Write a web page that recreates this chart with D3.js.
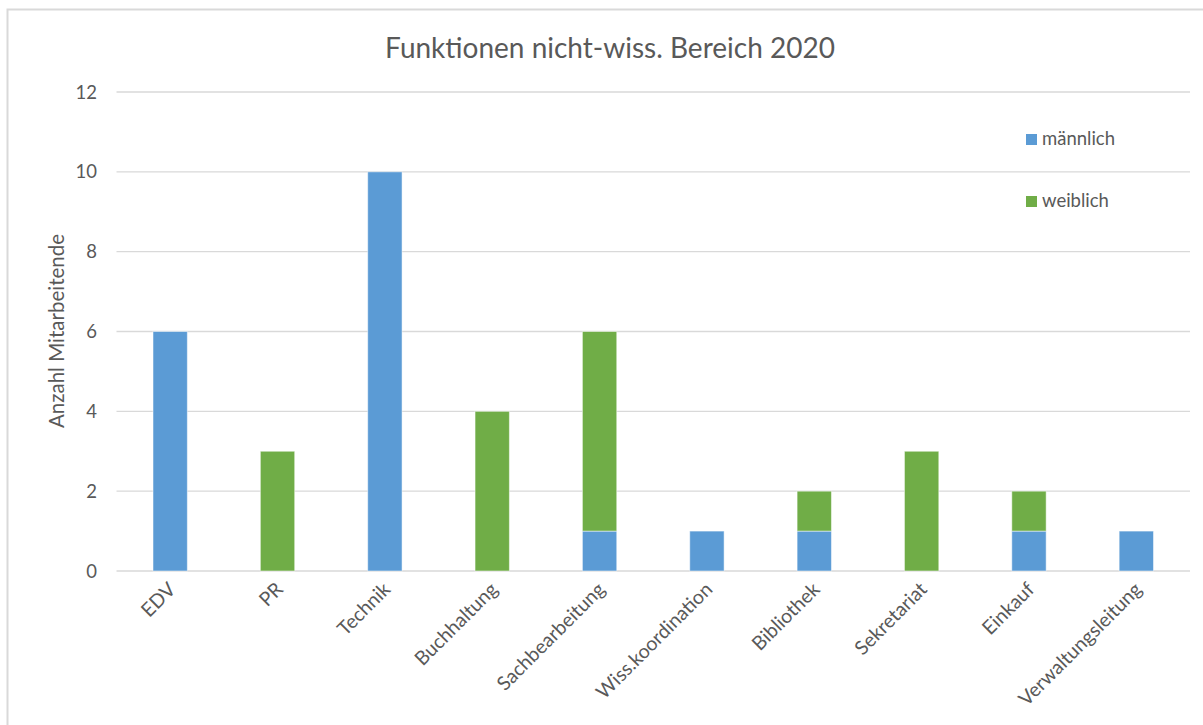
<!DOCTYPE html>
<html>
<head>
<meta charset="utf-8">
<script src="https://cdn.jsdelivr.net/npm/d3@7"></script>
<style>
	body{margin:0;background:#fff;}
	svg{display:block;font-family:Lato,"Open Sans",sans-serif;}
</style>
</head>
<body>
<div id="chart"></div>
<script>
/* chart data */
const categories = ['EDV','PR','Technik','Buchhaltung','Sachbearbeitung','Wiss.koordination','Bibliothek','Sekretariat','Einkauf','Verwaltungsleitung']
const maennlich = [6,0,10,0,1,1,1,0,1,1]
const weiblich = [0,3,0,4,5,0,1,3,1,0]
const seriesNames = ['männlich','weiblich']
const yTicks = [0,2,4,6,8,10,12]

const width = 1203
const height = 725
const colors = ['#5B9BD5','#70AD47']
const textColor = '#595959'

const svg = d3.select('#chart').append('svg')
	.attr('width',width)
	.attr('height',height)

//chart frame (runs off the right/bottom edge like the screenshot)
svg.append('rect')
	.attr('x',7.5).attr('y',9.5)
	.attr('width',width+20).attr('height',height+20)
	.attr('fill','#fff')
	.attr('stroke','#d9d9d9')
	.attr('stroke-width',2)

const plot = {left:116.5,right:1190,top:92,bottom:571}

const x = d3.scaleBand()
	.domain(categories)
	.range([plot.left,plot.right])
	.paddingInner(0.68)
	.paddingOuter(0.34)

const y = d3.scaleLinear()
	.domain([0,12])
	.range([plot.bottom,plot.top])

//gridlines
svg.append('g')
	.selectAll('line')
	.data(yTicks)
	.join('line')
	.attr('x1',plot.left).attr('x2',plot.right)
	.attr('y1',d => y(d)).attr('y2',d => y(d))
	.attr('stroke','#d9d9d9')
	.attr('stroke-width',1.3)

//y tick labels
svg.append('g')
	.selectAll('text')
	.data(yTicks)
	.join('text')
	.attr('x',97)
	.attr('y',d => y(d))
	.attr('dy','0.36em')
	.attr('text-anchor','end')
	.attr('fill',textColor)
	.style('font-size','18.5px')
	.text(d => d)

//stack the two series
const table = categories.map((c,i) => ({cat:c,'männlich':maennlich[i],'weiblich':weiblich[i]}))
const stacked = d3.stack().keys(seriesNames)(table)

svg.append('g')
	.selectAll('g')
	.data(stacked)
	.join('g')
	.attr('fill',(d,i) => colors[i])
	.selectAll('rect')
	.data(d => d.filter(v => v[1] - v[0] > 0))
	.join('rect')
	.attr('x',d => x(d.data.cat))
	.attr('width',x.bandwidth())
	.attr('y',d => y(d[1]))
	.attr('height',d => y(d[0]) - y(d[1]))
	.attr('stroke','rgba(255,255,255,0.5)')
	.attr('stroke-width',1)

//x labels, rotated
svg.append('g')
	.selectAll('text')
	.data(categories)
	.join('text')
	.attr('transform',d => `translate(${x(d) + x.bandwidth()/2 - 3},${plot.bottom + 10}) rotate(-45)`)
	.attr('text-anchor','end')
	.attr('dy','0.7em')
	.attr('fill',textColor)
	.style('font-size','19.5px')
	.text(d => d)

//axis title
svg.append('text')
	.attr('transform',`translate(64,331) rotate(-90)`)
	.attr('text-anchor','middle')
	.attr('fill',textColor)
	.style('font-size','20.5px')
	.text('Anzahl Mitarbeitende')

//chart title
svg.append('text')
	.attr('x',610)
	.attr('y',58)
	.attr('text-anchor','middle')
	.attr('fill',textColor)
	.style('font-size','28px')
	.text('Funktionen nicht-wiss. Bereich 2020')

//legend
const legend = svg.append('g')
	.selectAll('g')
	.data(seriesNames)
	.join('g')
	.attr('transform',(d,i) => `translate(1026,${134 + i*62})`)
legend.append('rect')
	.attr('width',11).attr('height',11)
	.attr('fill',(d,i) => colors[i])
legend.append('text')
	.attr('x',16)
	.attr('y',11)
	.attr('fill',textColor)
	.style('font-size','18.5px')
	.text(d => d)
</script>
</body>
</html>
